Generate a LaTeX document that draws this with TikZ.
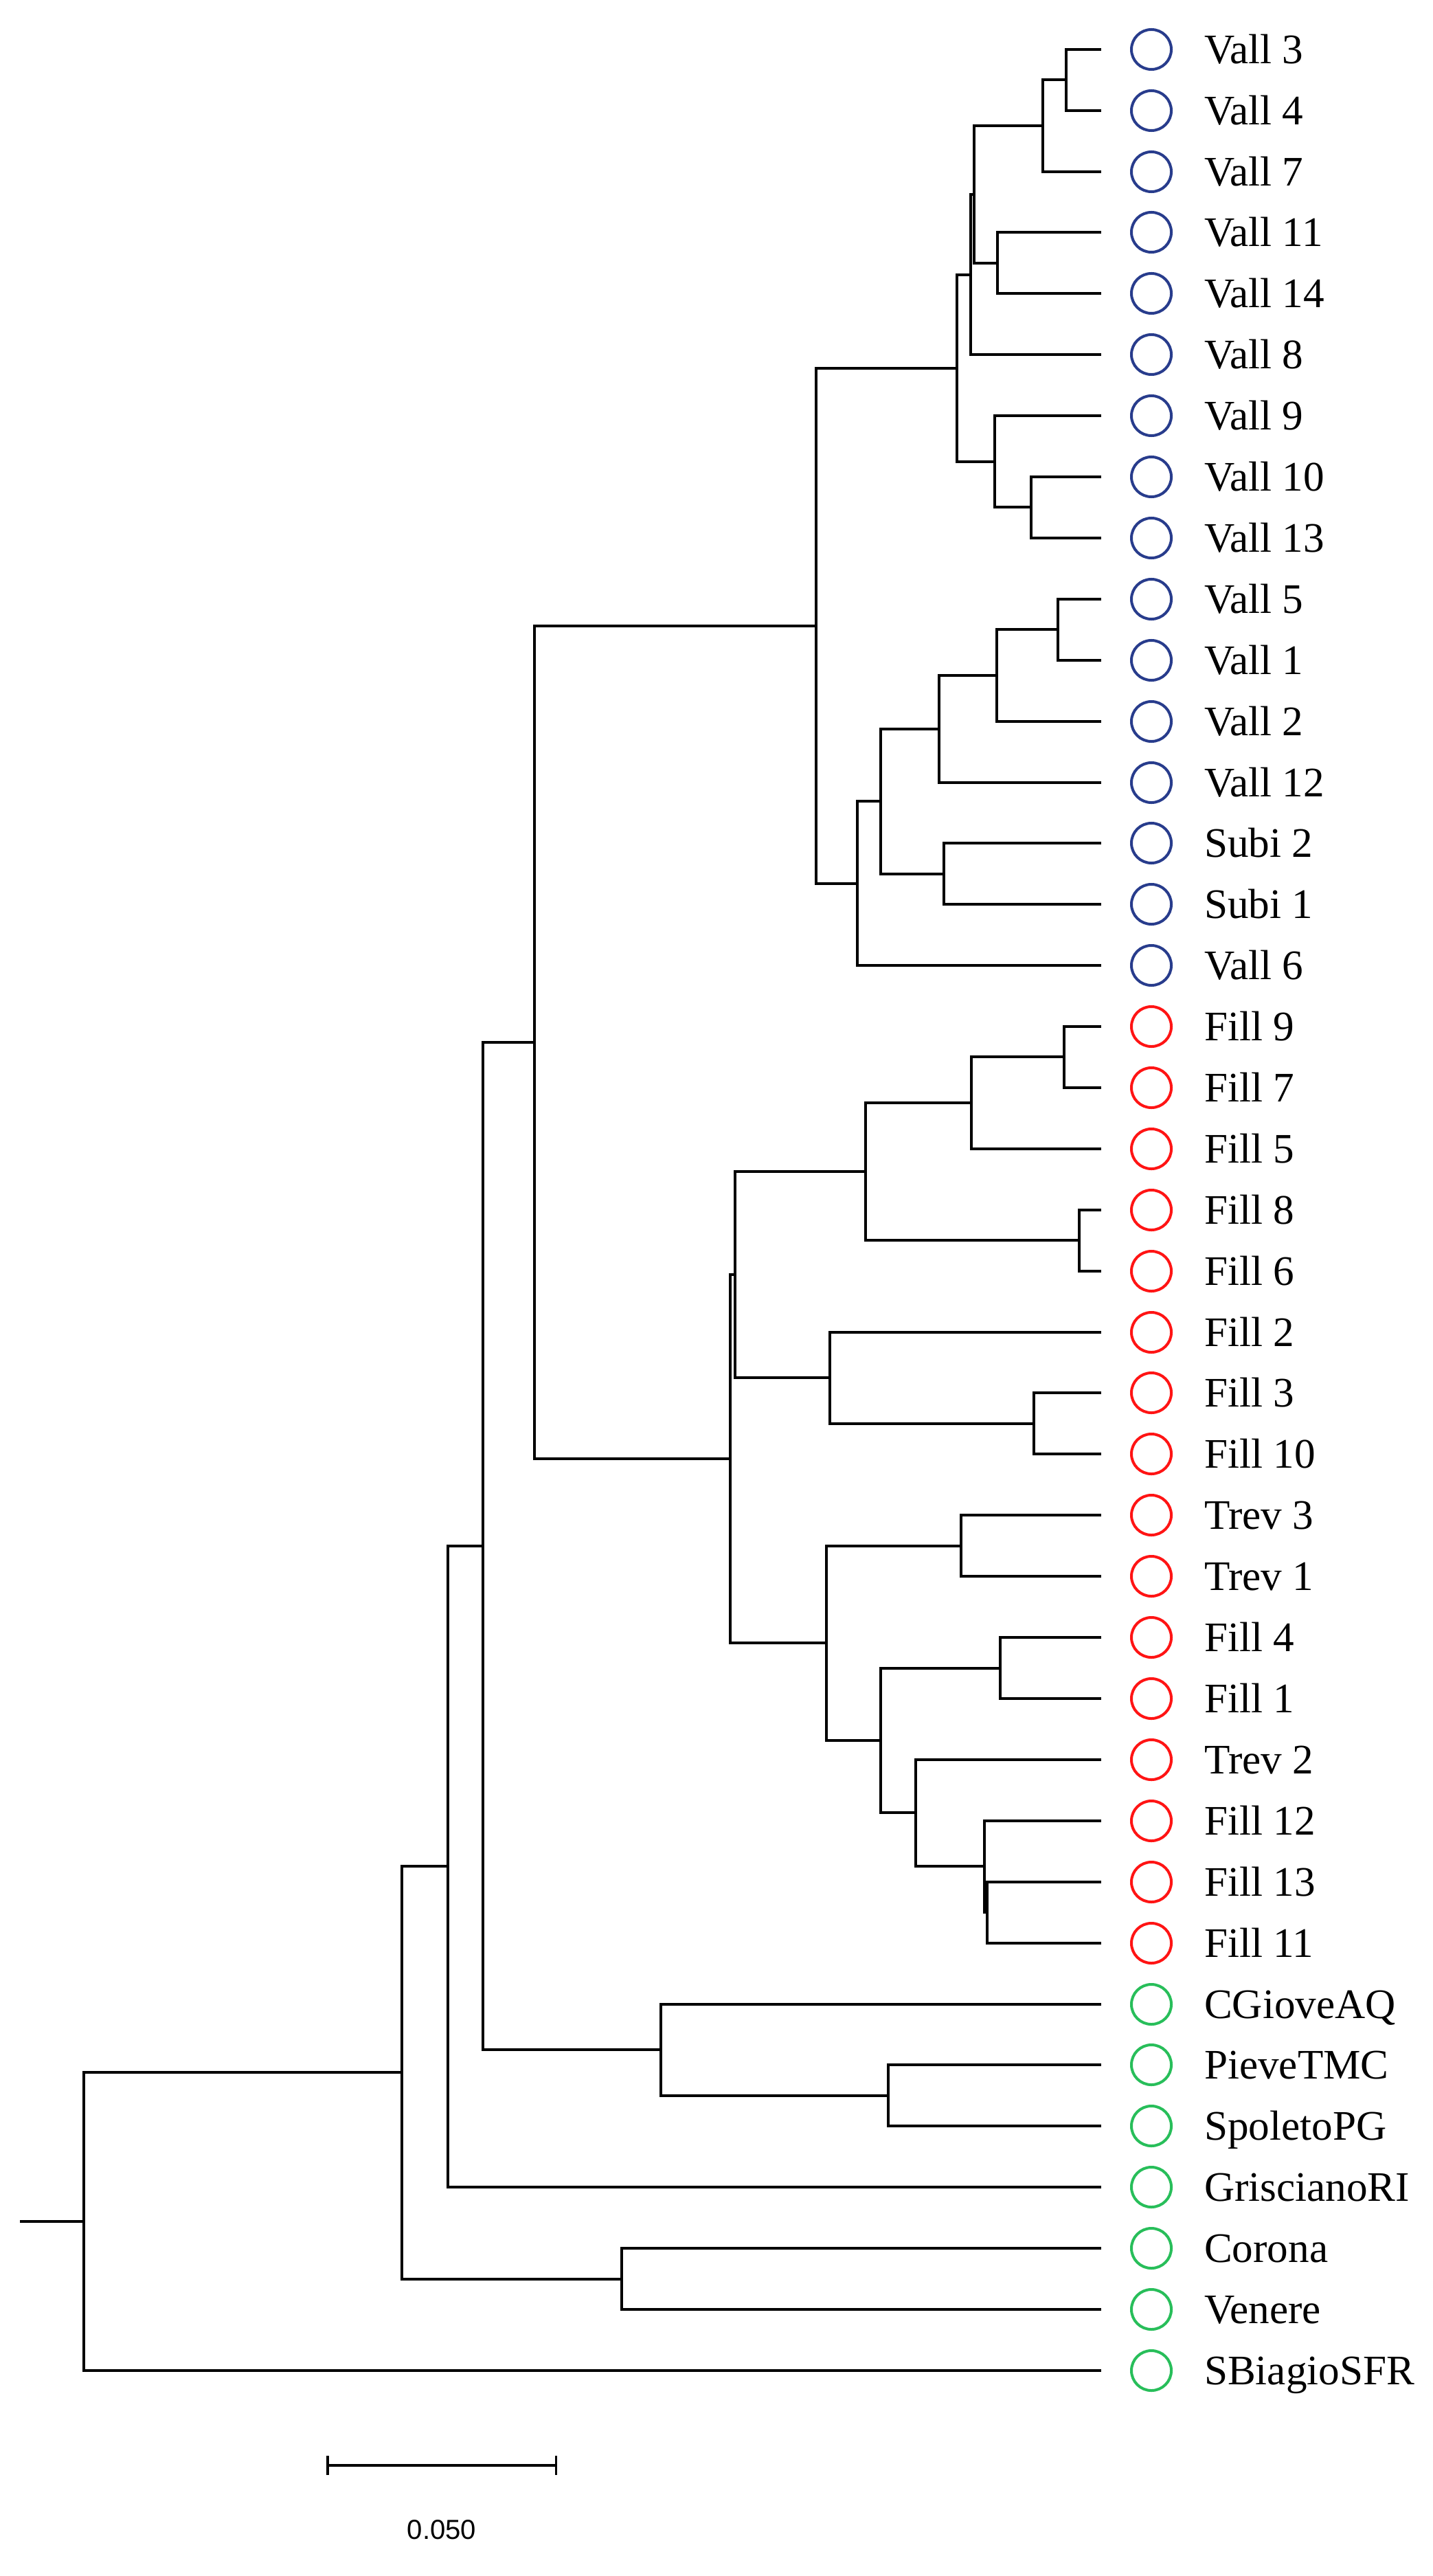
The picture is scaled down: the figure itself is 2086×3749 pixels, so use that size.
\documentclass[tikz,border=0pt]{standalone}
\usepackage{fontspec}
\setmainfont{Liberation Serif}
\newfontfamily\sbfont{Liberation Sans}
\usepackage{xcolor}
\definecolor{vallblue}{RGB}{40,60,140}
\definecolor{fillred}{RGB}{255,20,20}
\definecolor{outgreen}{RGB}{40,190,90}
\usetikzlibrary{positioning}
\usetikzlibrary{arrows.meta}

\begin{document}
\begin{tikzpicture}[x=0.01cm,y=-0.01cm,every node/.style={inner sep=0,outer sep=0},
    pop/.style={circle,draw,line width=0.04cm,minimum size=0.58cm},
    lab/.style={label distance=0.48cm,font=\fontsize{17.4}{20}\selectfont,text height=0.41cm,text depth=0cm},
    vl/.style={pop,draw=vallblue,label={[lab]right:#1}},
    fl/.style={pop,draw=fillred,label={[lab]right:#1}},
    gl/.style={pop,draw=outgreen,label={[lab]right:#1}},
    br/.style={line width=0.04cm,to path={|- (\tikztotarget)}},
    tip/.style={br,shorten >=0.44cm}]
    \useasboundingbox (0,0) rectangle (2086,3749);
    \node[vl=Vall 3] (v3) at (1676,72) {};
    \node[vl=Vall 4] (v4) at (1676,161) {};
    \node[vl=Vall 7] (v7) at (1676,250) {};
    \node[vl=Vall 11] (v11) at (1676,338) {};
    \node[vl=Vall 14] (v14) at (1676,427) {};
    \node[vl=Vall 8] (v8) at (1676,516) {};
    \node[vl=Vall 9] (v9) at (1676,605) {};
    \node[vl=Vall 10] (v10) at (1676,694) {};
    \node[vl=Vall 13] (v13) at (1676,783) {};
    \node[vl=Vall 5] (v5) at (1676,872) {};
    \node[vl=Vall 1] (v1) at (1676,961) {};
    \node[vl=Vall 2] (v2) at (1676,1050) {};
    \node[vl=Vall 12] (v12) at (1676,1139) {};
    \node[vl=Subi 2] (s2) at (1676,1227) {};
    \node[vl=Subi 1] (s1) at (1676,1316) {};
    \node[vl=Vall 6] (v6) at (1676,1405) {};
    \node[fl=Fill 9] (f9) at (1676,1494) {};
    \node[fl=Fill 7] (f7) at (1676,1583) {};
    \node[fl=Fill 5] (f5) at (1676,1672) {};
    \node[fl=Fill 8] (f8) at (1676,1761) {};
    \node[fl=Fill 6] (f6) at (1676,1850) {};
    \node[fl=Fill 2] (f2) at (1676,1939) {};
    \node[fl=Fill 3] (f3) at (1676,2027) {};
    \node[fl=Fill 10] (f10) at (1676,2116) {};
    \node[fl=Trev 3] (t3) at (1676,2205) {};
    \node[fl=Trev 1] (t1) at (1676,2294) {};
    \node[fl=Fill 4] (f4) at (1676,2383) {};
    \node[fl=Fill 1] (f1) at (1676,2472) {};
    \node[fl=Trev 2] (t2) at (1676,2561) {};
    \node[fl=Fill 12] (f12) at (1676,2650) {};
    \node[fl=Fill 13] (f13) at (1676,2739) {};
    \node[fl=Fill 11] (f11) at (1676,2828) {};
    \node[gl=CGioveAQ] (cgiove) at (1676,2917) {};
    \node[gl=PieveTMC] (pieve) at (1676,3005) {};
    \node[gl=SpoletoPG] (spoleto) at (1676,3094) {};
    \node[gl=GriscianoRI] (grisciano) at (1676,3183) {};
    \node[gl=Corona] (corona) at (1676,3272) {};
    \node[gl=Venere] (venere) at (1676,3361) {};
    \node[gl=SBiagioSFR] (sbiagio) at (1676,3450) {};
    \coordinate (n34) at (1552,116);
    \coordinate (n347) at (1518,183);
    \coordinate (n1114) at (1452,383);
    \coordinate (nA) at (1418,283);
    \coordinate (nB) at (1413,400);
    \coordinate (n1013) at (1501,738);
    \coordinate (nD) at (1448,672);
    \coordinate (nE) at (1393,536);
    \coordinate (n51) at (1540,916);
    \coordinate (nK) at (1451,983);
    \coordinate (nJ) at (1367,1061);
    \coordinate (nM) at (1374,1272);
    \coordinate (nI) at (1282,1166);
    \coordinate (nG) at (1248,1286);
    \coordinate (nF) at (1188,911);
    \coordinate (n97) at (1549,1538);
    \coordinate (nR) at (1414,1605);
    \coordinate (n86) at (1571,1805);
    \coordinate (nQ) at (1260,1705);
    \coordinate (n310) at (1505,2072);
    \coordinate (nU) at (1208,2005);
    \coordinate (nP) at (1070,1855);
    \coordinate (nX) at (1399,2250);
    \coordinate (nZ) at (1456,2428);
    \coordinate (n1311) at (1437,2783);
    \coordinate (nAB) at (1433,2716);
    \coordinate (nAA) at (1333,2638);
    \coordinate (nY) at (1282,2533);
    \coordinate (nW) at (1203,2391);
    \coordinate (nO) at (1063,2123);
    \coordinate (nH) at (778,1517);
    \coordinate (nps) at (1293,3050);
    \coordinate (nAE) at (962,2983);
    \coordinate (nN) at (703,2250);
    \coordinate (nAG) at (652,2716);
    \coordinate (ncv) at (905,3317);
    \coordinate (nAH) at (585,3016);
    \coordinate (root) at (122,3233);
    \coordinate (stub) at (29,3233);
    \path[draw]
        (n34) edge[tip] (v3) edge[tip] (v4)
        (n347) edge[br] (n34) edge[tip] (v7)
        (n1114) edge[tip] (v11) edge[tip] (v14)
        (nA) edge[br] (n347) edge[br] (n1114)
        (nB) edge[br] (nA) edge[tip] (v8)
        (n1013) edge[tip] (v10) edge[tip] (v13)
        (nD) edge[tip] (v9) edge[br] (n1013)
        (nE) edge[br] (nB) edge[br] (nD)
        (n51) edge[tip] (v5) edge[tip] (v1)
        (nK) edge[br] (n51) edge[tip] (v2)
        (nJ) edge[br] (nK) edge[tip] (v12)
        (nM) edge[tip] (s2) edge[tip] (s1)
        (nI) edge[br] (nJ) edge[br] (nM)
        (nG) edge[br] (nI) edge[tip] (v6)
        (nF) edge[br] (nE) edge[br] (nG)
        (n97) edge[tip] (f9) edge[tip] (f7)
        (nR) edge[br] (n97) edge[tip] (f5)
        (n86) edge[tip] (f8) edge[tip] (f6)
        (nQ) edge[br] (nR) edge[br] (n86)
        (n310) edge[tip] (f3) edge[tip] (f10)
        (nU) edge[tip] (f2) edge[br] (n310)
        (nP) edge[br] (nQ) edge[br] (nU)
        (nX) edge[tip] (t3) edge[tip] (t1)
        (nZ) edge[tip] (f4) edge[tip] (f1)
        (n1311) edge[tip] (f13) edge[tip] (f11)
        (nAB) edge[tip] (f12) edge[br] (n1311)
        (nAA) edge[tip] (t2) edge[br] (nAB)
        (nY) edge[br] (nZ) edge[br] (nAA)
        (nW) edge[br] (nX) edge[br] (nY)
        (nO) edge[br] (nP) edge[br] (nW)
        (nH) edge[br] (nF) edge[br] (nO)
        (nps) edge[tip] (pieve) edge[tip] (spoleto)
        (nAE) edge[tip] (cgiove) edge[br] (nps)
        (nN) edge[br] (nH) edge[br] (nAE)
        (nAG) edge[br] (nN) edge[tip] (grisciano)
        (ncv) edge[tip] (corona) edge[tip] (venere)
        (nAH) edge[br] (nAG) edge[br] (ncv)
        (root) edge[br] (nAH) edge[tip] (sbiagio)
        (root) edge[br] (stub);
    \coordinate (sb0) at (475,3588);
    \coordinate (sb1) at (811,3588);
    \draw[line width=0.035cm,{Bar[width=0.28cm]}-{Bar[width=0.28cm]}] (sb0) -- (sb1);
    \node[font=\sbfont\fontsize{11.4}{13}\selectfont] (sbl) at (643,3682) {0.050};
\end{tikzpicture}
\end{document}
